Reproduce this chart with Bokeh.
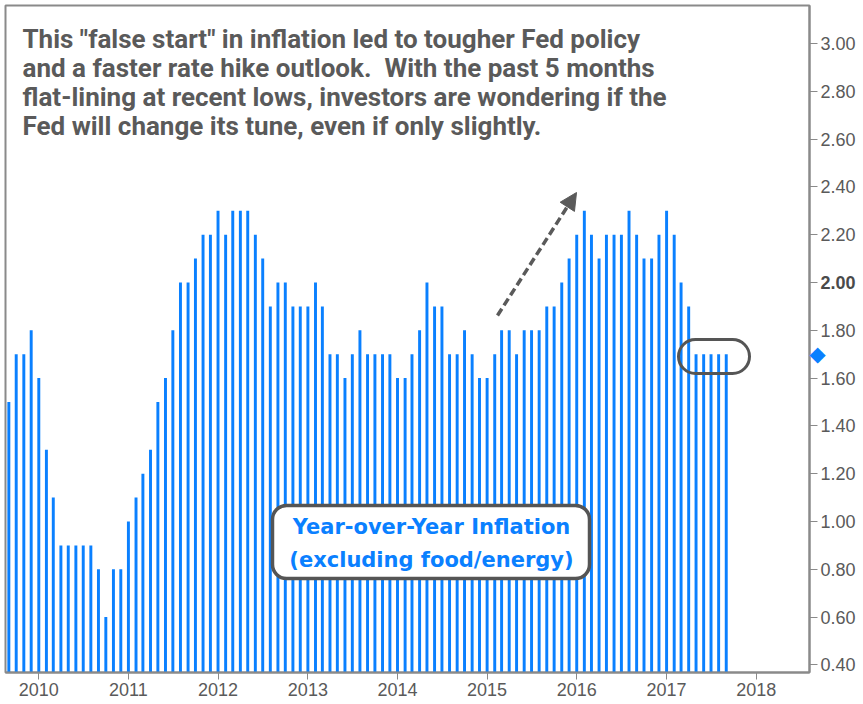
import calendar
from datetime import date

from bokeh.plotting import figure
from bokeh.models import (Range1d, FixedTicker, DatetimeTickFormatter, CustomJSTickFormatter,
                          Label, BoxAnnotation, Arrow, NormalHead, ColumnDataSource)
from bokeh.embed import file_html
from bokeh.resources import INLINE

# ---------------- data: US core CPI, year-over-year % (Sep 2009 - Sep 2017) -------------
first_month = (2009, 9)
cpi_2009 = [1.5, 1.7, 1.7, 1.8]
cpi_2010 = [1.6, 1.3, 1.1, 0.9, 0.9, 0.9, 0.9, 0.9, 0.8, 0.6, 0.8, 0.8]
cpi_2011 = [1.0, 1.1, 1.2, 1.3, 1.5, 1.6, 1.8, 2.0, 2.0, 2.1, 2.2, 2.2]
cpi_2012 = [2.3, 2.2, 2.3, 2.3, 2.3, 2.2, 2.1, 1.9, 2.0, 2.0, 1.9, 1.9]
cpi_2013 = [1.9, 2.0, 1.9, 1.7, 1.7, 1.6, 1.7, 1.8, 1.7, 1.7, 1.7, 1.7]
cpi_2014 = [1.6, 1.6, 1.7, 1.8, 2.0, 1.9, 1.9, 1.7, 1.7, 1.8, 1.7, 1.6]
cpi_2015 = [1.6, 1.7, 1.8, 1.8, 1.7, 1.8, 1.8, 1.8, 1.9, 1.9, 2.0, 2.1]
cpi_2016 = [2.2, 2.3, 2.2, 2.1, 2.2, 2.2, 2.2, 2.3, 2.2, 2.1, 2.1, 2.2]
cpi_2017 = [2.3, 2.2, 2.0, 1.9, 1.7, 1.7, 1.7, 1.7, 1.7]
latest_value = 1.7

year_ticks = [2010, 2011, 2012, 2013, 2014, 2015, 2016, 2017, 2018]
y_ticks = [0.4, 0.6, 0.8, 1.0, 1.2, 1.4, 1.6, 1.8, 2.0, 2.2, 2.4, 2.6, 2.8, 3.0]
bold_tick = 2.0

note_lines = [
    'This "false start" in inflation led to tougher Fed policy',
    'and a faster rate hike outlook.\u00a0 With the past 5 months',
    'flat-lining at recent lows, investors are wondering if the',
    'Fed will change its tune, even if only slightly.',
]
box_lines = ["Year-over-Year Inflation", "(excluding food/energy)"]

# ---------------- build series ----------------
values = cpi_2009 + cpi_2010 + cpi_2011 + cpi_2012 + cpi_2013 + cpi_2014 + cpi_2015 + cpi_2016 + cpi_2017


def ms(y, m, d=1):
    return calendar.timegm(date(y, m, d).timetuple()) * 1000.0


months = []
y, m = first_month
for _ in values:
    months.append(ms(y, m))
    m += 1
    if m > 12:
        y, m = y + 1, 1

# ---------------- layout helpers (canvas pixel -> data) ----------------
FRAME_L, FRAME_T = 5, 5
FRAME_W, FRAME_H = 804, 667
TICK_2010_PX, TICK_2018_PX = 38.3, 755.7
MS_PER_PX = (ms(2018, 1, 1) - ms(2010, 1, 1)) / (TICK_2018_PX - TICK_2010_PX)
X_START = ms(2010, 1, 1) - (TICK_2010_PX - FRAME_L) * MS_PER_PX
PX_PER_UNIT = 239.0
Y3_PX = 43.0


def X(px):
    return X_START + (px - FRAME_L) * MS_PER_PX


def Y(py):
    return 3.0 - (py - Y3_PX) / PX_PER_UNIT


BLUE = "#0A80FF"
GREY = "#5A5A5A"
AXIS_GREY = "#8A8A8A"

p = figure(frame_width=FRAME_W, frame_height=FRAME_H, x_axis_type="datetime",
           y_axis_location="right", output_backend="svg", toolbar_location=None,
           x_range=Range1d(X(FRAME_L), X(FRAME_L + FRAME_W)),
           y_range=Range1d(Y(FRAME_T + FRAME_H), Y(FRAME_T)),
           min_border_left=FRAME_L, min_border_top=FRAME_T, min_border_right=0, min_border_bottom=0)
p.background_fill_color = "white"
p.border_fill_color = "white"
p.outline_line_color = AXIS_GREY
p.outline_line_width = 2
p.xgrid.visible = False
p.ygrid.visible = False

src = ColumnDataSource(dict(x=months, top=values))
p.vbar(x="x", top="top", bottom=0, width=12 * 86400000.0, source=src,
       fill_color=BLUE, line_color=None)

# x axis
xa = p.xaxis[0]
xa.ticker = FixedTicker(ticks=[ms(yy, 1, 1) for yy in year_ticks])
xa.formatter = DatetimeTickFormatter(years="%Y", months="%Y", days="%Y", hours="%Y",
                                     minutes="%Y", seconds="%Y", milliseconds="%Y")
xa.axis_line_color = AXIS_GREY
xa.axis_line_width = 2
xa.major_tick_line_color = AXIS_GREY
xa.major_tick_out = 7
xa.major_tick_in = 0
xa.minor_tick_line_color = None
xa.major_label_standoff = 3
xa.major_label_text_font = "Liberation Sans"
xa.major_label_text_font_size = "18px"
xa.major_label_text_color = GREY

# y axis (right)
ya = p.yaxis[0]
ya.ticker = FixedTicker(ticks=y_ticks)
ya.formatter = CustomJSTickFormatter(code="""
    const s = tick.toFixed(2);
    return s == "2.00" ? "" : s;
""")
ya.axis_line_color = AXIS_GREY
ya.axis_line_width = 2
ya.major_tick_line_color = AXIS_GREY
ya.major_tick_out = 8
ya.major_tick_in = 0
ya.minor_tick_line_color = None
ya.major_label_standoff = 3
ya.major_label_text_font = "Liberation Sans"
ya.major_label_text_font_size = "18px"
ya.major_label_text_color = GREY

# bold 2.00 label and latest-value diamond, outside the frame (side panel, not clipped)
p.add_layout(Label(x=X(820), y=bold_tick, text="%.2f" % bold_tick, text_font="Liberation Sans",
                   text_font_size="18px", text_font_style="bold", text_color="#4A4A4A",
                   text_baseline="middle", text_align="left"), "right")
p.add_layout(Label(x=X(817), y=latest_value, text="\u25C6", text_font="DejaVu Sans",
                   text_font_size="21px", text_color=BLUE,
                   text_baseline="middle", text_align="center"), "right")

# commentary text
for i, line in enumerate(note_lines):
    p.add_layout(Label(x=X(22), y=Y(38 + 29.3 * i), text=line, text_font="Roboto",
                       text_font_size="26px", text_font_style="bold", text_color=GREY,
                       text_baseline="middle", text_align="left"))

# dashed arrow
p.add_layout(Arrow(x_start=X(497), y_start=Y(315), x_end=X(576), y_end=Y(192),
                   line_color=GREY, line_width=3.5, line_dash="8 4",
                   end=NormalHead(size=17, fill_color=GREY, line_color=GREY, line_width=1)))

# pill around flat months
p.add_layout(BoxAnnotation(left=X(678), right=X(749), top=Y(339), bottom=Y(373),
                           fill_alpha=0, line_color="#555555", line_width=3, line_alpha=1,
                           border_radius=17, level="overlay"))

# rounded legend box
p.add_layout(BoxAnnotation(left=X(272), right=X(589), top=Y(505), bottom=Y(578),
                           fill_color="white", fill_alpha=1, line_color="#555555",
                           line_width=3.5, line_alpha=1, border_radius=14))
for i, line in enumerate(box_lines):
    p.add_layout(Label(x=X(431), y=Y(526 + 33 * i), text=line, text_font="DejaVu Sans",
                       text_font_size="21px", text_font_style="bold", text_color=BLUE,
                       text_baseline="middle", text_align="center"))

open("out.html", "w").write(file_html(p, INLINE))
